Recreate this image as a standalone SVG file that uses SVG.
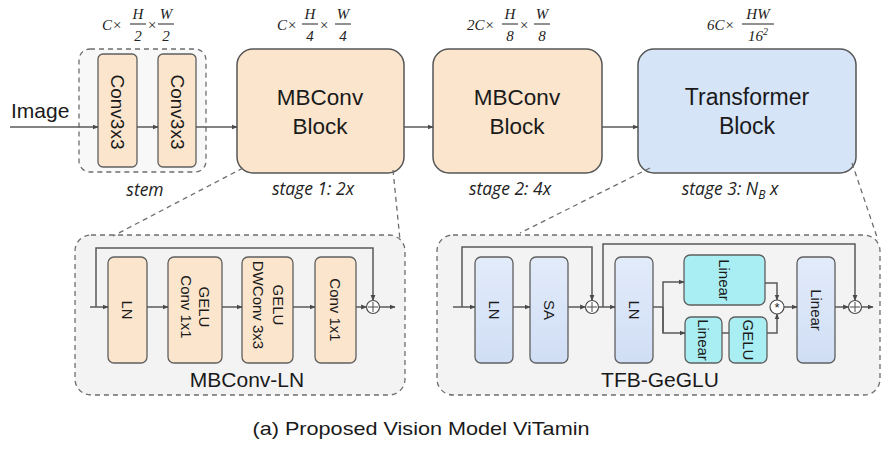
<svg xmlns="http://www.w3.org/2000/svg" width="885" height="450" viewBox="0 0 885 450">
<style>
.bg{fill:#ffffff}
.peach{fill:#fbe5cd;stroke:#5f5f5f;stroke-width:1.3}
.blue{fill:url(#bl);stroke:#5f5f5f;stroke-width:1.3}
.cyan{fill:#a9eef3;stroke:#5f5f5f;stroke-width:1.3}
.dash{fill:#f3f3f3;stroke:#6e6e6e;stroke-width:1.3;stroke-dasharray:5 4}
.dline{fill:none;stroke:#6e6e6e;stroke-width:1.3;stroke-dasharray:5 4}
.ln{fill:none;stroke:#5a5a5a;stroke-width:1.5}
.arr{fill:none;stroke:#5a5a5a;stroke-width:1.5;marker-end:url(#ah)}
.circ{fill:#ffffff;stroke:#4a4a4a;stroke-width:1.2}
.t{font-family:"Liberation Sans",Arial,sans-serif;fill:#1a1a1a}
.big{font-size:22.5px;text-anchor:middle}
.rot{font-size:15px;text-anchor:middle;dominant-baseline:central}
.ttl{font-size:20px;text-anchor:middle}
.stg{font-family:"Open Sans","Lato",sans-serif;font-style:italic;font-size:17.5px;fill:#222;text-anchor:middle}
.m{font-family:"Liberation Serif","Times New Roman",serif;font-style:italic;font-size:15px;fill:#222}
.mc{text-anchor:middle}
.bar{stroke:#222;stroke-width:1}
</style>
<defs>
<linearGradient id="bl" x1="0" y1="0" x2="0" y2="1">
<stop offset="0" stop-color="#e2ebfa"/>
<stop offset="1" stop-color="#d0def5"/>
</linearGradient>
<marker id="ah" viewBox="0 0 10 10" refX="9" refY="5" markerWidth="6" markerHeight="6" markerUnits="userSpaceOnUse" orient="auto">
<path d="M0,1 L10,5 L0,9 z" fill="#4a4a4a"/>
</marker>
</defs>
<rect class="bg" x="0" y="0" width="885" height="450"/>

<!-- dimension labels -->
<g id="dim0">
<text class="m" x="102" y="30">C×</text>
<text class="m mc" x="138" y="19">H</text><line class="bar" x1="130" y1="24" x2="146" y2="24"/><text class="m mc" x="138" y="41">2</text>
<text class="m" x="147" y="30">×</text>
<text class="m mc" x="166" y="19">W</text><line class="bar" x1="158" y1="24" x2="174" y2="24"/><text class="m mc" x="166" y="41">2</text>
</g>
<g id="dim1">
<text class="m" x="277" y="30">C×</text>
<text class="m mc" x="310" y="19">H</text><line class="bar" x1="302" y1="24" x2="318" y2="24"/><text class="m mc" x="310" y="41">4</text>
<text class="m" x="319" y="30">×</text>
<text class="m mc" x="343" y="19">W</text><line class="bar" x1="335" y1="24" x2="351" y2="24"/><text class="m mc" x="343" y="41">4</text>
</g>
<g id="dim2">
<text class="m" x="467" y="30">2C×</text>
<text class="m mc" x="510" y="19">H</text><line class="bar" x1="502" y1="24" x2="518" y2="24"/><text class="m mc" x="510" y="41">8</text>
<text class="m" x="519" y="30">×</text>
<text class="m mc" x="542" y="19">W</text><line class="bar" x1="534" y1="24" x2="550" y2="24"/><text class="m mc" x="542" y="41">8</text>
</g>
<g id="dim3">
<text class="m" x="707" y="30">6C×</text>
<text class="m mc" x="758" y="19">HW</text><line class="bar" x1="742" y1="24" x2="774" y2="24"/><text class="m mc" x="758" y="41">16<tspan font-size="10" dy="-6">2</tspan></text>
</g>

<!-- stem -->
<g id="stem">
<rect x="79" y="49" width="127" height="123" rx="11" fill="#f8f8f8" stroke="#6e6e6e" stroke-width="1.3" stroke-dasharray="5 4"/>
<text class="stg" x="145" y="196">stem</text>
</g>
<g id="conv1">
<rect class="peach" x="98" y="54" width="39" height="113" rx="5"/>
<text class="t rot" style="font-size:19px" transform="translate(117.5,112) rotate(90)">Conv3x3</text>
</g>
<g id="conv2">
<rect class="peach" x="158" y="54" width="38" height="113" rx="5"/>
<text class="t rot" style="font-size:19px" transform="translate(177,112) rotate(90)">Conv3x3</text>
</g>
<g id="image">
<text class="t" x="11" y="118" style="font-size:21px">Image</text>
</g>

<!-- stage blocks -->
<g id="stage1">
<rect class="peach" x="237" y="49" width="167" height="124" rx="16" style="stroke:#555;stroke-width:1.5"/>
<text class="t big" x="320" y="105">MBConv</text>
<text class="t big" x="320" y="134">Block</text>
<text class="stg" x="313" y="195">stage 1: 2x</text>
</g>
<g id="stage2">
<rect class="peach" x="433" y="49" width="169" height="124" rx="16" style="stroke:#555;stroke-width:1.5"/>
<text class="t big" x="517" y="105">MBConv</text>
<text class="t big" x="517" y="134">Block</text>
<text class="stg" x="510" y="195">stage 2: 4x</text>
</g>
<g id="stage3">
<rect x="638" y="49" width="218" height="124" rx="16" fill="#d6e4f8" stroke="#555" stroke-width="1.5"/>
<text class="t big" x="747" y="105" style="font-size:23px">Transformer</text>
<text class="t big" x="747" y="134" style="font-size:23px">Block</text>
<text class="stg" x="730" y="195">stage 3: N<tspan font-size="12" dy="4">B</tspan><tspan dy="-4"> x</tspan></text>
</g>

<!-- MBConv-LN -->
<g id="mbconvln">
<rect class="dash" x="75" y="235" width="330" height="160" rx="16"/>
<text class="t ttl" x="247" y="387" style="font-size:21px">MBConv-LN</text>
</g>
<g id="m_ln">
<rect class="peach" x="108" y="257" width="39" height="106" rx="6"/>
<text class="t rot" transform="translate(127.5,310) rotate(90)">LN</text>
</g>
<g id="m_conv1">
<rect class="peach" x="168" y="257" width="54" height="106" rx="6"/>
<text class="t rot" transform="translate(195,307) rotate(90)"><tspan x="0" y="-10">GELU</tspan><tspan x="0" y="8">Conv 1x1</tspan></text>
</g>
<g id="m_dw">
<rect class="peach" x="242" y="257" width="51" height="106" rx="6"/>
<text class="t rot" transform="translate(267.5,305) rotate(90)"><tspan x="0" y="-11">GELU</tspan><tspan x="0" y="9">DWConv 3x3</tspan></text>
</g>
<g id="m_conv2">
<rect class="peach" x="315" y="257" width="41" height="106" rx="6"/>
<text class="t rot" transform="translate(335.5,310) rotate(90)">Conv 1x1</text>
</g>
<g id="m_add">
<circle class="circ" cx="373" cy="307" r="6.5"/>
<line class="ln" x1="373" y1="302" x2="373" y2="312" style="stroke-width:1.1"/>
<line class="ln" x1="368" y1="307" x2="378" y2="307" style="stroke-width:1.1"/>
</g>

<!-- TFB-GeGLU -->
<g id="tfb">
<rect class="dash" x="437" y="235" width="443" height="160" rx="16"/>
<text class="t ttl" x="660" y="387" style="font-size:21px">TFB-GeGLU</text>
</g>
<g id="t_ln1">
<rect class="blue" x="475" y="257" width="38" height="106" rx="6"/>
<text class="t rot" transform="translate(494,310) rotate(90)">LN</text>
</g>
<g id="t_sa">
<rect class="blue" x="530" y="257" width="38" height="106" rx="6"/>
<text class="t rot" transform="translate(549,310) rotate(90)">SA</text>
</g>
<g id="t_add1">
<circle class="circ" cx="592" cy="307" r="6.5"/>
<line class="ln" x1="592" y1="302" x2="592" y2="312" style="stroke-width:1.1"/>
<line class="ln" x1="587" y1="307" x2="597" y2="307" style="stroke-width:1.1"/>
</g>
<g id="t_ln2">
<rect class="blue" x="615" y="257" width="38" height="106" rx="6"/>
<text class="t rot" transform="translate(634,310) rotate(90)">LN</text>
</g>
<g id="t_lin1">
<rect class="cyan" x="684" y="255" width="81" height="50" rx="6"/>
<text class="t rot" transform="translate(724.5,280) rotate(90)">Linear</text>
</g>
<g id="t_lin2">
<rect class="cyan" x="685" y="317" width="37" height="46" rx="6"/>
<text class="t rot" transform="translate(703.5,340) rotate(90)">Linear</text>
</g>
<g id="t_gelu">
<rect class="cyan" x="729" y="317" width="38" height="46" rx="6"/>
<text class="t rot" transform="translate(748,340) rotate(90)">GELU</text>
</g>
<g id="t_mul">
<circle class="circ" cx="777" cy="307" r="7"/>
<text class="t" x="777" y="312" text-anchor="middle" style="font-size:13px">*</text>
</g>
<g id="t_lin3">
<rect class="blue" x="797" y="257" width="38" height="106" rx="6"/>
<text class="t rot" transform="translate(816,310) rotate(90)">Linear</text>
</g>
<g id="t_add2">
<circle class="circ" cx="855" cy="307" r="6.5"/>
<line class="ln" x1="855" y1="302" x2="855" y2="312" style="stroke-width:1.1"/>
<line class="ln" x1="850" y1="307" x2="860" y2="307" style="stroke-width:1.1"/>
</g>

<!-- connectors -->
<g id="connectors">
<line class="arr" x1="10" y1="127" x2="98" y2="127"/>
<line class="arr" x1="137" y1="127" x2="158" y2="127"/>
<line class="arr" x1="196" y1="127" x2="237" y2="127"/>
<line class="arr" x1="404" y1="127" x2="433" y2="127"/>
<line class="arr" x1="602" y1="127" x2="638" y2="127"/>
<line class="dline" x1="243" y1="168" x2="113" y2="236"/>
<line class="dline" x1="393" y1="170" x2="400" y2="240"/>
<line class="dline" x1="650" y1="168" x2="520" y2="233"/>
<line class="dline" x1="852" y1="163" x2="878" y2="240"/>
<line class="arr" x1="90" y1="307" x2="108" y2="307"/>
<polyline class="arr" points="96,307 96,248 373,248 373,300.5"/>
<line class="arr" x1="147" y1="307" x2="168" y2="307"/>
<line class="arr" x1="222" y1="307" x2="242" y2="307"/>
<line class="arr" x1="293" y1="307" x2="315" y2="307"/>
<line class="arr" x1="356" y1="307" x2="366.5" y2="307"/>
<line class="arr" x1="379.5" y1="307" x2="395" y2="307"/>
<line class="arr" x1="453" y1="307" x2="475" y2="307"/>
<polyline class="arr" points="462,307 462,247 592,247 592,300.5"/>
<line class="arr" x1="513" y1="307" x2="530" y2="307"/>
<line class="arr" x1="568" y1="307" x2="585.5" y2="307"/>
<line class="arr" x1="598.5" y1="307" x2="615" y2="307"/>
<polyline class="arr" points="603,307 603,244 855,244 855,300.5"/>
<line class="ln" x1="653" y1="307" x2="663" y2="307"/>
<polyline class="arr" points="663,333 663,282 684,282"/>
<polyline class="arr" points="663,307 663,333 685,333"/>
<line class="ln" x1="722" y1="333" x2="729" y2="333"/>
<polyline class="arr" points="765,283 777,283 777,300"/>
<polyline class="arr" points="767,333 777,333 777,314"/>
<line class="arr" x1="784" y1="307" x2="797" y2="307"/>
<line class="arr" x1="835" y1="307" x2="848.5" y2="307"/>
<line class="arr" x1="861.5" y1="307" x2="873" y2="307"/>
</g>

<g id="caption">
<text class="t" x="421" y="435" text-anchor="middle" style="font-size:19px" textLength="337" lengthAdjust="spacingAndGlyphs">(a) Proposed Vision Model ViTamin</text>
</g>
</svg>
